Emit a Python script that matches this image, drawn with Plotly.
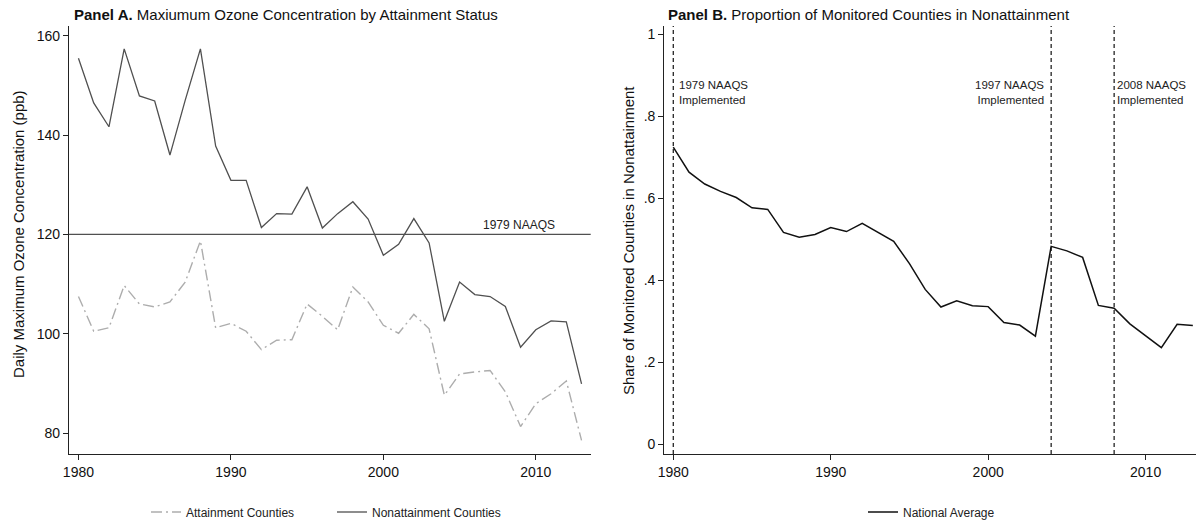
import plotly.graph_objects as go

years = list(range(1980, 2014))

attainment = [107.5, 100.5, 101.2, 109.7, 106.0, 105.4, 106.4, 110.4, 118.7, 101.2,
              102.1, 100.5, 96.8, 98.7, 98.8, 106.0, 103.5, 100.8, 109.4, 106.4,
              101.7, 100.1, 103.9, 101.0, 87.6, 91.9, 92.3, 92.6, 88.3, 81.3,
              85.9, 87.9, 90.5, 78.5]

nonattainment = [155.5, 146.5, 141.7, 157.4, 147.9, 146.9, 136.0, 147.0, 157.4, 137.8,
                 130.9, 130.9, 121.4, 124.2, 124.1, 129.6, 121.3, 124.2, 126.6, 123.1,
                 115.8, 118.0, 123.2, 118.3, 102.5, 110.4, 107.9, 107.5, 105.5, 97.3,
                 100.8, 102.6, 102.4, 89.9]

national_share = [0.725, 0.664, 0.635, 0.617, 0.602, 0.577, 0.573, 0.517, 0.505, 0.512,
                  0.529, 0.519, 0.539, 0.518, 0.495, 0.441, 0.378, 0.335, 0.350, 0.338,
                  0.336, 0.297, 0.291, 0.264, 0.483, 0.472, 0.456, 0.339, 0.332, 0.294,
                  0.264, 0.236, 0.293, 0.290]

naaqs_1979_level = 120
naaqs_years = [1980, 2004, 2008]
naaqs_labels = ["1979 NAAQS<br>Implemented", "1997 NAAQS<br>Implemented", "2008 NAAQS<br>Implemented"]

a_xticks = [1980, 1990, 2000, 2010]
a_yticks = [80, 100, 120, 140, 160]
b_yticks = [0, 0.2, 0.4, 0.6, 0.8, 1.0]
b_yticktext = ["0", ".2", ".4", ".6", ".8", "1"]

FONT = "Liberation Sans, Arial, sans-serif"
W, H = 1196, 522
T, B = 26, 68
PH = H - T - B


def px_x(X):
    return X / W


def px_y(Y):
    return (H - B - Y) / PH


fig = go.Figure()
fig.add_trace(go.Scatter(x=years, y=attainment, mode="lines", name="Attainment Counties",
                         line=dict(color="#adadad", width=1.4, dash="11px,4px,2px,4px"),
                         xaxis="x", yaxis="y", legend="legend"))
fig.add_trace(go.Scatter(x=years, y=nonattainment, mode="lines", name="Nonattainment Counties",
                         line=dict(color="#505050", width=1.3),
                         xaxis="x", yaxis="y", legend="legend"))
fig.add_trace(go.Scatter(x=years, y=national_share, mode="lines", name="National Average",
                         line=dict(color="#111111", width=1.5),
                         xaxis="x2", yaxis="y2", legend="legend2"))

axis_common = dict(showline=True, linecolor="#222222", linewidth=1.2, ticks="outside",
                   ticklen=5, tickwidth=1, tickcolor="#222222", showgrid=False,
                   zeroline=False, automargin=False,
                   tickfont=dict(family=FONT, size=14, color="#111111"))

fig.update_layout(
    template="none",
    width=W, height=H,
    margin=dict(l=0, r=0, t=T, b=B, autoexpand=False),
    plot_bgcolor="white", paper_bgcolor="white",
    font=dict(family=FONT, color="#111111"),
    xaxis=dict(domain=[px_x(69), px_x(590.7)], range=[1979.38, 2013.60],
               tickvals=a_xticks, anchor="y", **axis_common),
    yaxis=dict(domain=[0, 1], range=[75.77, 162.0], tickvals=a_yticks, anchor="x",
               **axis_common),
    xaxis2=dict(domain=[px_x(664.3), 1.0], range=[1979.43, 2013.2],
                tickvals=a_xticks, anchor="y2", **axis_common),
    yaxis2=dict(domain=[0, 1], range=[-0.0234, 1.0203], tickvals=b_yticks,
                ticktext=b_yticktext, anchor="x2", **axis_common),
    legend=dict(orientation="h", xref="container", yref="container",
                x=px_x(146), y=(H - 512) / H, xanchor="left", yanchor="middle",
                entrywidth=141, borderwidth=0,
                font=dict(family=FONT, size=12, color="#222222"), bgcolor="rgba(0,0,0,0)"),
    legend2=dict(orientation="h", xref="container", yref="container",
                 x=px_x(863), y=(H - 512) / H, xanchor="left", yanchor="middle",
                 borderwidth=0,
                 font=dict(family=FONT, size=12, color="#222222"), bgcolor="rgba(0,0,0,0)"),
    showlegend=True,
)

# 1979 NAAQS horizontal line in panel A
fig.add_shape(type="line", xref="x domain", yref="y", x0=0, x1=1,
              y0=naaqs_1979_level, y1=naaqs_1979_level,
              line=dict(color="#505050", width=1.3))
fig.add_annotation(x=2011.4, y=naaqs_1979_level, xref="x", yref="y", text="1979 NAAQS",
                   showarrow=False, xanchor="right", yanchor="bottom",
                   font=dict(family=FONT, size=12, color="#222222"))

# Implementation lines in panel B
for i, (yr, lab) in enumerate(zip(naaqs_years, naaqs_labels)):
    fig.add_shape(type="line", xref="x2", yref="y2 domain", x0=yr, x1=yr, y0=0, y1=1,
                  line=dict(color="#111111", width=1.2, dash="4px,3px"))
    right = (i == 1)
    fig.add_annotation(x=yr, y=0.858, xref="x2", yref="y2", text=lab, showarrow=False,
                       xanchor="right" if right else "left", align="right" if right else "left",
                       xshift=-5 if right else (4 if i == 0 else 1), yanchor="middle",
                       font=dict(family=FONT, size=11.5, color="#222222"))

# Panel titles
fig.add_annotation(x=px_x(71.5), y=px_y(14), xref="paper", yref="paper",
                   text="<b>Panel A.</b> Maxiumum Ozone Concentration by Attainment Status",
                   showarrow=False, xanchor="left", yanchor="middle",
                   font=dict(family=FONT, size=15, color="#111111"))
fig.add_annotation(x=px_x(665.5), y=px_y(14), xref="paper", yref="paper",
                   text="<b>Panel B.</b> Proportion of Monitored Counties in Nonattainment",
                   showarrow=False, xanchor="left", yanchor="middle",
                   font=dict(family=FONT, size=15, color="#111111"))

# Axis titles
fig.add_annotation(x=px_x(18), y=px_y(234), xref="paper", yref="paper",
                   text="Daily Maximum Ozone Concentration (ppb)", textangle=-90,
                   showarrow=False, xanchor="center", yanchor="middle",
                   font=dict(family=FONT, size=15, color="#111111"))
fig.add_annotation(x=px_x(629), y=px_y(241), xref="paper", yref="paper",
                   text="Share of Monitored Counties in Nonattainment", textangle=-90,
                   showarrow=False, xanchor="center", yanchor="middle",
                   font=dict(family=FONT, size=15, color="#111111"))

fig.write_html("out.html",
               config={"displayModeBar": False},
               post_script="document.body.style.margin='0px';document.body.style.overflow='hidden';")
